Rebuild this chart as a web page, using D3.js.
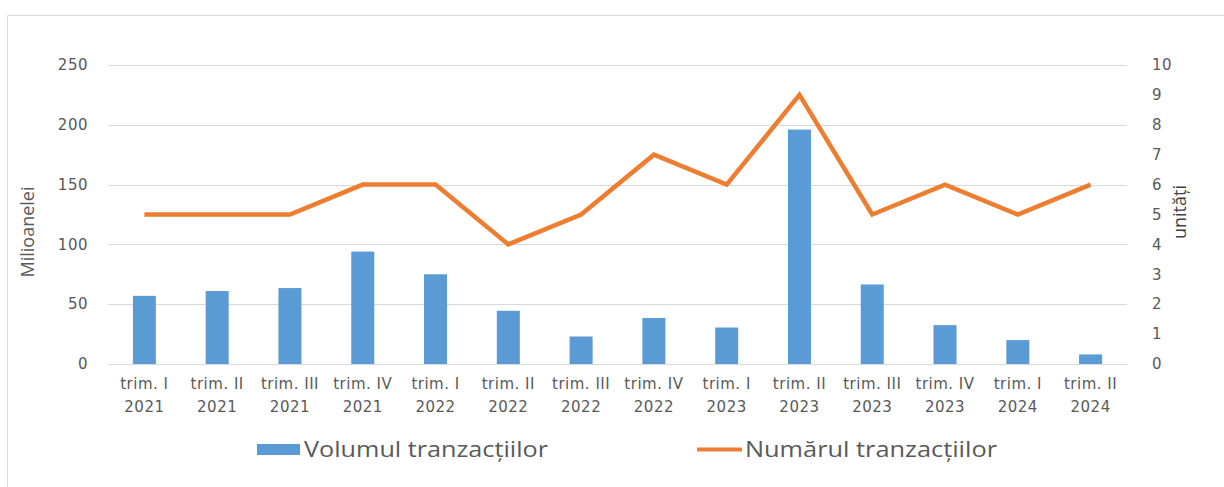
<!DOCTYPE html>
<html>
<head>
<meta charset="utf-8">
<script src="https://cdn.jsdelivr.net/npm/d3@7"></script>
<style>
  html, body { margin: 0; padding: 0; background: #fff; }
  svg { display: block; }
</style>
</head>
<body>
<div id="container"></div>
<script>
// Quarters shown on the x axis (two lines each)
const quarters = ["trim. I", "trim. II", "trim. III", "trim. IV", "trim. I", "trim. II", "trim. III",
  "trim. IV", "trim. I", "trim. II", "trim. III", "trim. IV", "trim. I", "trim. II"];
const years = ["2021", "2021", "2021", "2021", "2022", "2022", "2022",
  "2022", "2023", "2023", "2023", "2023", "2024", "2024"];

// Volumul tranzactiilor (milioane lei) - bars, left axis
const volume = [57, 61, 63.5, 94, 75, 44.5, 23, 38.5, 30.5, 196, 66.5, 32.5, 20, 8];
// Numarul tranzactiilor (unitati) - line, right axis
const count = [5, 5, 5, 6, 6, 4, 5, 7, 6, 9, 5, 6, 5, 6];

const leftTicks = [0, 50, 100, 150, 200, 250];
const rightTicks = [0, 1, 2, 3, 4, 5, 6, 7, 8, 9, 10];

const W = 1224, H = 487;
const plot = { left: 108, right: 1127, top: 65, bottom: 364 };
const blue = "#5b9bd5", orange = "#ed7d31";
const textCol = "#595959";
const tickFont = "DejaVu Sans, sans-serif";

const svg = d3.select("#container").append("svg")
  .attr("width", W)
  .attr("height", H);

// chart frame (only top and left edges are visible in the picture)
svg.append("line").attr("x1", 7.5).attr("x2", W).attr("y1", 15.5).attr("y2", 15.5)
  .attr("stroke", "#d9d9d9");
svg.append("line").attr("x1", 7.5).attr("x2", 7.5).attr("y1", 15.5).attr("y2", H)
  .attr("stroke", "#d9d9d9");

const idx = d3.range(quarters.length);
const x = d3.scaleBand().domain(idx).range([plot.left, plot.right]).paddingInner(0).paddingOuter(0);
const yL = d3.scaleLinear().domain([0, 250]).range([plot.bottom, plot.top]);
const yR = d3.scaleLinear().domain([0, 10]).range([plot.bottom, plot.top]);

// gridlines
svg.append("g").selectAll("line")
  .data(leftTicks.slice(1))
  .enter().append("line")
    .attr("x1", plot.left).attr("x2", plot.right)
    .attr("y1", d => Math.round(yL(d)) + 0.5).attr("y2", d => Math.round(yL(d)) + 0.5)
    .attr("stroke", "#d9d9d9");

// left axis labels
svg.append("g").selectAll("text")
  .data(leftTicks)
  .enter().append("text")
    .attr("x", 88).attr("y", d => yL(d))
    .attr("dy", "0.35em")
    .attr("text-anchor", "end")
    .attr("font-family", tickFont).attr("font-size", 15).attr("letter-spacing", 0.5)
    .attr("fill", textCol)
    .text(d => d);

// right axis labels
svg.append("g").selectAll("text")
  .data(rightTicks)
  .enter().append("text")
    .attr("x", 1152).attr("y", d => yR(d))
    .attr("dy", "0.35em")
    .attr("text-anchor", "start")
    .attr("font-family", tickFont).attr("font-size", 15).attr("letter-spacing", 0.5)
    .attr("fill", textCol)
    .text(d => d);

// bars
const barW = 23;
svg.append("g").selectAll("rect")
  .data(volume)
  .enter().append("rect")
    .attr("x", (d, i) => x(i) + x.bandwidth() / 2 - barW / 2)
    .attr("y", d => yL(d))
    .attr("width", barW)
    .attr("height", d => yL(0) - yL(d))
    .attr("fill", blue);

// baseline
svg.append("line")
  .attr("x1", plot.left).attr("x2", plot.right)
  .attr("y1", Math.round(yL(0)) + 0.5).attr("y2", Math.round(yL(0)) + 0.5)
  .attr("stroke", "#d9d9d9");

// line series
const line = d3.line()
  .x((d, i) => x(i) + x.bandwidth() / 2)
  .y(d => yR(d));
svg.append("path")
  .datum(count)
  .attr("d", line)
  .attr("fill", "none")
  .attr("stroke", orange)
  .attr("stroke-width", 4.5)
  .attr("stroke-linejoin", "miter");

// x axis labels
const xl = svg.append("g").selectAll("text")
  .data(idx)
  .enter().append("text")
    .attr("text-anchor", "middle")
    .attr("font-family", tickFont).attr("font-size", 15).attr("letter-spacing", 0.5)
    .attr("fill", textCol);
xl.append("tspan")
  .attr("x", i => x(i) + x.bandwidth() / 2).attr("y", 389)
  .text(i => quarters[i]);
xl.append("tspan")
  .attr("x", i => x(i) + x.bandwidth() / 2).attr("y", 412)
  .text(i => years[i]);

// axis titles
svg.append("text")
  .attr("transform", "translate(34,232) rotate(-90)")
  .attr("text-anchor", "middle")
  .attr("font-family", "Open Sans, sans-serif").attr("font-size", 18)
  .attr("fill", textCol)
  .text("Milioanelei");
svg.append("text")
  .attr("transform", "translate(1186,212) rotate(-90)")
  .attr("text-anchor", "middle")
  .attr("font-family", "Open Sans, sans-serif").attr("font-size", 18)
  .attr("fill", "#404040")
  .text("unități");

// legend
const legend = svg.append("g").attr("font-family", "Open Sans, sans-serif")
  .attr("font-size", 21).attr("fill", textCol);
legend.append("rect").attr("x", 257).attr("y", 444).attr("width", 43).attr("height", 11).attr("fill", blue);
legend.append("text").attr("x", 304).attr("y", 457)
  .attr("textLength", 244).attr("lengthAdjust", "spacingAndGlyphs")
  .text("Volumul tranzacțiilor");
legend.append("line").attr("x1", 697).attr("x2", 742).attr("y1", 449.5).attr("y2", 449.5)
  .attr("stroke", orange).attr("stroke-width", 4);
legend.append("text").attr("x", 745).attr("y", 457)
  .attr("textLength", 252).attr("lengthAdjust", "spacingAndGlyphs")
  .text("Numărul tranzacțiilor");
</script>
</body>
</html>
